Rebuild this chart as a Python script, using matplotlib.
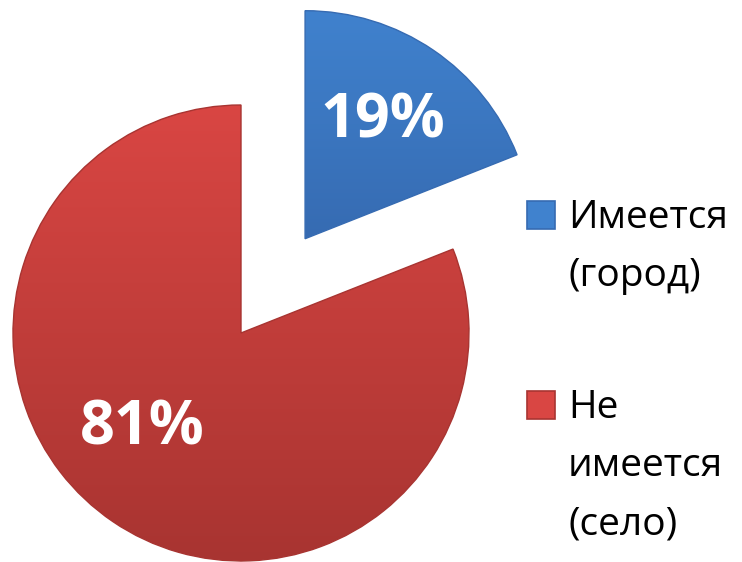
import numpy as np
import matplotlib
matplotlib.use("Agg")
import matplotlib.pyplot as plt
from matplotlib.patches import Rectangle
from matplotlib.colors import LinearSegmentedColormap

# ---- data ----
categories = ["Имеется\n(город)", "Не\nимеется\n(село)"]
values = [19, 81]
explode = [0.5, 0.0]
top_colors = ["#4082ce", "#d94643"]
bottom_colors = ["#366bb2", "#a83431"]
mid_colors = ["#3b77c0", "#c63f3c"]

W, H = 742, 562
fig = plt.figure(figsize=(W / 100, H / 100), dpi=100)
ax = fig.add_axes([0, 0, 1, 1])
cx, cy, R = 241, 333, 228  # pixel center and radius of the pie

wedges, texts, autotexts = ax.pie(
    values, explode=explode, colors=mid_colors, startangle=90,
    counterclock=False, radius=1, center=(0, 0),
    autopct=lambda p: f"{p:.0f}%", pctdistance=0.6,
    wedgeprops=dict(linewidth=0),
    textprops=dict(color="white", fontsize=44, fontweight="bold",
                   family=["Open Sans", "DejaVu Sans"]),
    frame=True)
xlim = (-cx / R, (W - cx) / R)
ylim = (-(H - cy) / R, cy / R)

# gradient fill clipped to each wedge (spanning each wedge's own height)
grad = np.linspace(0, 1, 256).reshape(-1, 1)
for w, ct, cb in zip(wedges, top_colors, bottom_colors):
    cmap = LinearSegmentedColormap.from_list("g", [ct, cb])
    verts = w.get_path().vertices
    y0, y1 = verts[:, 1].min(), verts[:, 1].max()
    im = ax.imshow(grad, cmap=cmap, aspect="auto",
                   extent=(xlim[0], xlim[1], y0, y1), origin="upper",
                   zorder=w.get_zorder() + 0.1)
    im.set_clip_path(w)
    w.set_edgecolor(cb)
    w.set_linewidth(1.0)
    w.set_zorder(w.get_zorder() + 0.2)
    w.set_facecolor("none")

ax.set_xlim(*xlim)
ax.set_ylim(*ylim)
ax.set_aspect("equal")
ax.axis("off")

for t in autotexts:
    t.set_zorder(10)
# fine positioning of percentage labels (pixel targets)
autotexts[0].set_position(((383 - cx) / R, (cy - 122) / R))
autotexts[1].set_position(((142 - cx) / R, (cy - 429) / R))

# ---- legend (manual) ----
entry_tops = [201, 391]  # pixel y of top of square
line_h = 58
for lab, ct, cb, ytop in zip(categories, top_colors, bottom_colors, entry_tops):
    sq = Rectangle((527 / W, 1 - (ytop + 28) / H), 28 / W, 28 / H,
                   transform=fig.transFigure, facecolor=ct, edgecolor=cb, lw=1.2)
    fig.add_artist(sq)
    for i, line in enumerate(lab.split("\n")):
        fig.text(568 / W, 1 - (ytop + 27 + i * line_h) / H, line,
                 fontsize=28, color="black", va="baseline", ha="left",
                 family=["Open Sans", "DejaVu Sans"])

fig.savefig("out.png", dpi=100)
